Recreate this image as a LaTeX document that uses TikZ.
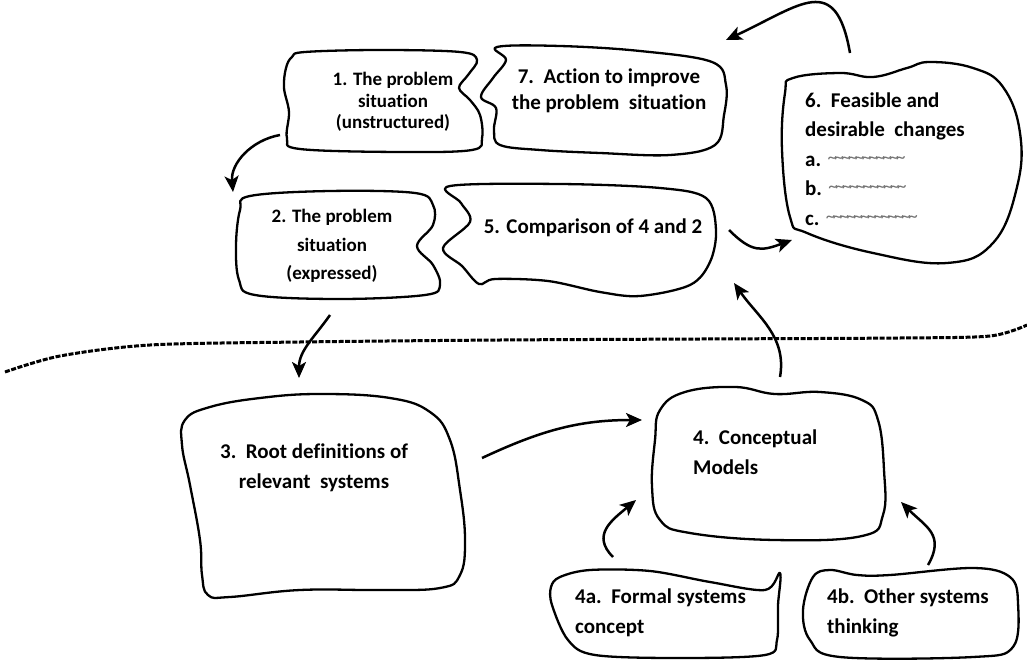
\documentclass[tikz,border=0pt]{standalone}
\usepackage{fontspec}
\setmainfont{Carlito}[Ligatures=NoCommon]
\usetikzlibrary{arrows.meta,positioning}

\newcommand{\squig}[1]{{\color{black!55}\mdseries\fontsize{19}{19}\selectfont\raisebox{3pt}{\foreach \k in {1,...,#1}{\textasciitilde\kern-2.6pt}}}}

\begin{document}
\begin{tikzpicture}[x=1pt,y=-1pt,
    blob/.style={draw,line width=2.3pt,line join=round},
    txt/.style={inner sep=0pt,font=\bfseries\fontsize{21}{30}\selectfont},
    small/.style={inner sep=0pt,font=\bfseries\fontsize{19}{21.5}\selectfont},
    conn/.style={-{Stealth[length=16pt,width=14pt,inset=4pt]},line width=2.5pt}]
            \useasboundingbox (0,0) rectangle (1027,663);

            % the texts of the stages
            \node[small,align=center] (s1) at (393,102) {1. The problem\\situation\\(unstructured)};
            \node[small,align=center,font=\bfseries\fontsize{19}{28.5}\selectfont] (s2) at (332,246) {2. The problem\\situation\\(expressed)};
            \node[txt,align=center,font=\bfseries\fontsize{21}{26}\selectfont] (s7) at (609,91) {7.~~Action to improve\\the problem~~situation};
            \node[txt] (s5) at (593,228) {5. Comparison of 4 and 2};
            \node[txt,align=left,anchor=west,font=\bfseries\fontsize{21}{29.5}\selectfont] (s6) at (805,159) {6.~~Feasible and\\desirable~~changes\\a. \squig{11}\\b. \squig{11}\\c. \squig{13}};
            \node[txt,align=center] (s3) at (314,468) {3.~~Root definitions of\\relevant~~systems};
            \node[txt,align=left,anchor=west] (s4) at (693,452) {4.~~Conceptual\\Models};
            \node[txt,align=left,anchor=west] (s4a) at (575,613) {4a.~~Formal systems\\concept};
            \node[txt,align=left,anchor=west] (s4b) at (827,613) {4b.~~Other systems\\thinking};

            % the clouds round them
            \draw[blob] plot[smooth cycle,tension=.6] coordinates {(305,52) (380,50) (460,52) (477,60) (468,75) (459,88) (470,100) (480,115) (482,138) (472,150) (400,152) (300,149) (287,138) (289,112) (284,88) (286,68) (292,57)};
            \draw[blob] plot[smooth cycle,tension=.6] coordinates {(497,47) (560,46) (640,51) (712,62) (726,85) (724,115) (715,145) (670,155) (600,153) (540,150) (500,145) (494,130) (496,108) (481,97) (493,78) (506,60)};
            \draw[blob] plot[smooth cycle,tension=.6] coordinates {(250,196) (330,191) (415,193) (433,205) (433,225) (417,246) (433,265) (440,285) (425,295) (340,299) (255,295) (239,280) (236,245) (240,210)};
            \draw[blob] plot[smooth cycle,tension=.55] coordinates {(450,186) (560,184) (660,188) (706,198) (716,230) (710,262) (690,285) (640,296) (600,292) (548,281) (495,279) (479,284) (462,266) (443,248) (470,222) (461,203)};
            \draw[blob] plot[smooth cycle,tension=.7] coordinates {(793,78) (840,73) (873,77) (907,68) (930,62) (973,68) (1003,87) (1020,133) (1017,187) (993,243) (947,263) (873,253) (807,233) (790,217) (782,150) (785,93)};
            \draw[blob] plot[smooth cycle,tension=.7] coordinates {(185,420) (210,407) (260,398) (320,394) (390,398) (430,412) (450,440) (460,490) (465,540) (460,575) (440,588) (380,590) (300,590) (230,597) (208,595) (202,575) (200,540) (190,485) (182,445)};
            \draw[blob] plot[smooth cycle,tension=.7] coordinates {(660,410) (685,392) (735,387) (775,394) (820,392) (862,400) (878,420) (884,470) (883,515) (862,536) (775,540) (690,533) (660,520) (652,487) (655,440)};
            \draw[blob] plot[smooth cycle,tension=.55] coordinates {(560,577) (590,570) (650,571) (710,582) (765,590) (780,573) (778,605) (777,640) (765,655) (680,658) (595,655) (568,640) (552,605) (551,587)};
            \draw[blob] plot[smooth cycle,tension=.6] coordinates {(813,577) (830,570) (857,575) (890,575) (973,568) (1010,577) (1018,603) (1013,647) (973,657) (840,657) (810,640) (803,610)};

            % the line between real world and systems thinking
            \draw[line width=3pt,dash pattern=on 5pt off 1.6pt] plot[smooth,tension=.5] coordinates {(5,372) (60,356) (150,345) (300,342) (500,340) (700,339) (900,338) (990,336) (1027,325)};

            % ends of the arrows
            \coordinate (s6out) at (850,53);
            \coordinate (s7in) at (726,40);
            \coordinate (s1out) at (280,135);
            \coordinate (s2in) at (233,192);
            \coordinate (s2out) at (330,315);
            \coordinate (s3in) at (299,378);
            \coordinate (s5out) at (729,230);
            \coordinate (s6in) at (792,240);
            \coordinate (s4out) at (780,377);
            \coordinate (s5in) at (734,283);
            \coordinate (s3out) at (482,458);
            \coordinate (s4in) at (642,420);
            \coordinate (s4aout) at (613,557);
            \coordinate (s4ain) at (636,500);
            \coordinate (s4bout) at (928,565);
            \coordinate (s4bin) at (901,502);

            \draw[conn] (s6out) to[out=100,in=25,looseness=1.7] (s7in);
            \draw[conn] (s1out) to[out=190,in=95] (s2in);
            \draw[conn] (s2out) to[out=235,in=90] (s3in);
            \draw[conn] (s5out) to[out=-45,in=200,looseness=1.3] (s6in);
            \draw[conn] (s4out) to[out=80,in=-55] (s5in);
            \draw[conn] (s3out) to[out=25,in=180] (s4in);
            \draw[conn] (s4aout) to[out=135,in=220,looseness=1.3] (s4ain);
            \draw[conn] (s4bout) to[out=60,in=-45,looseness=1.3] (s4bin);
        \end{tikzpicture}
\end{document}
